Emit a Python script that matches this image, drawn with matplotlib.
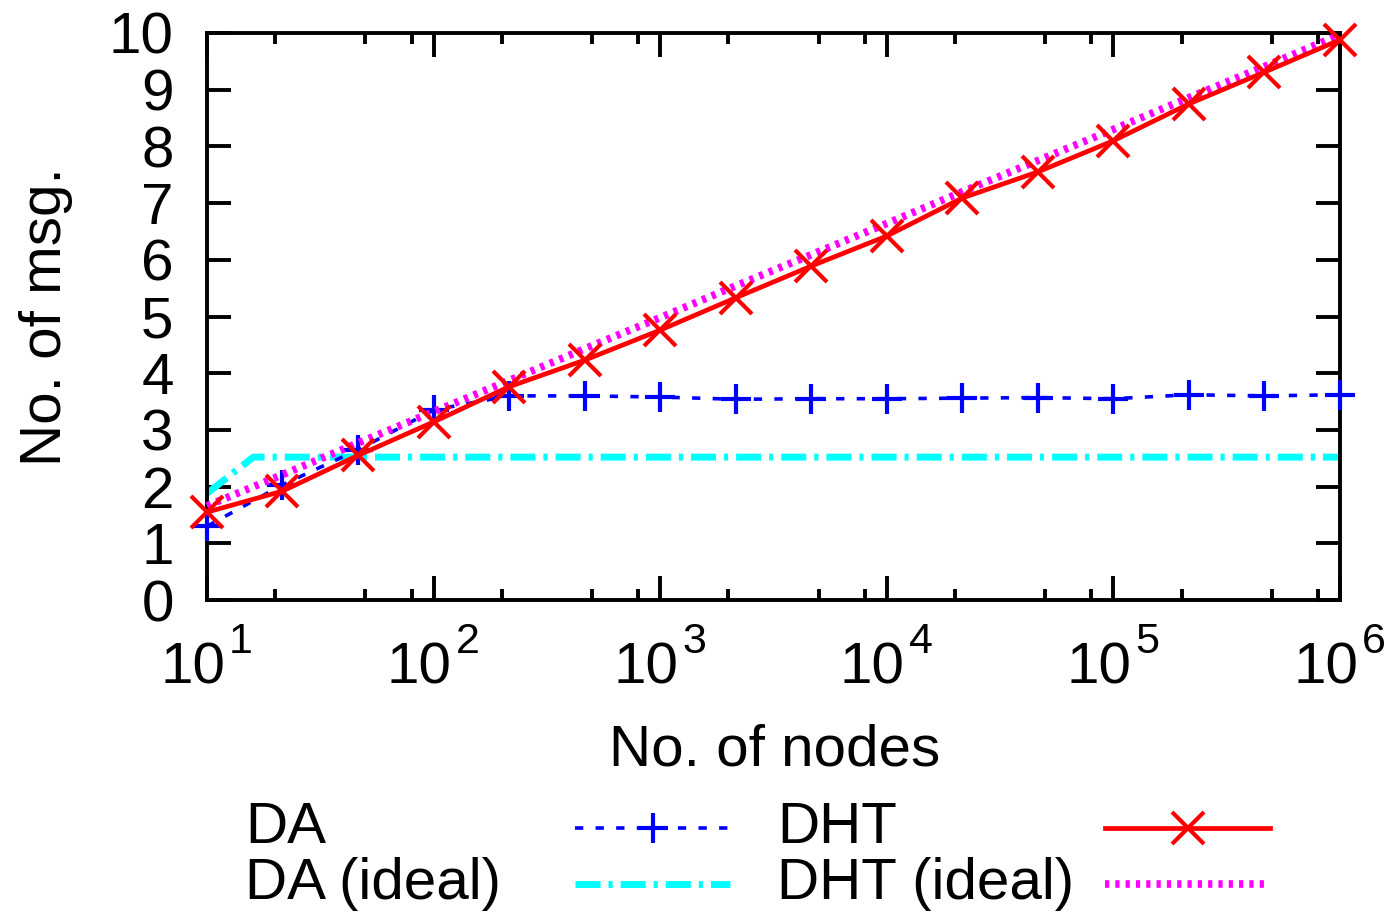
import matplotlib
matplotlib.use("Agg")
import matplotlib.pyplot as plt
from matplotlib.lines import Line2D
from matplotlib.ticker import FixedLocator, NullFormatter
from matplotlib.transforms import offset_copy

plt.rcParams['font.family'] = ['Liberation Sans', 'DejaVu Sans']

# number of nodes (three points per decade)
nodes = [10, 21.5, 46.4, 100, 215, 464, 1000, 2154, 4642, 10000,
         21544, 46416, 100000, 215443, 464159, 1000000]

da = [1.30, 2.03, 2.65, 3.35, 3.60, 3.60, 3.58, 3.54, 3.55, 3.55,
      3.56, 3.57, 3.55, 3.62, 3.60, 3.62]
dht = [1.55, 1.92, 2.55, 3.14, 3.76, 4.23, 4.76, 5.33, 5.89, 6.42,
       7.09, 7.55, 8.10, 8.75, 9.31, 9.88]
dht_ideal = [1.66, 2.21, 2.77, 3.32, 3.87, 4.43, 4.98, 5.54, 6.09, 6.64,
             7.20, 7.75, 8.30, 8.86, 9.41, 9.97]

da_ideal_x = [10, 16, 1000000]
da_ideal = [1.88, 2.52, 2.52]

x_exponents = [1, 2, 3, 4, 5, 6]
labels = ['DA', 'DA (ideal)', 'DHT', 'DHT (ideal)']

FS = 42
W, H = 1393, 917
fig = plt.figure(figsize=(W / 100, H / 100), dpi=100)
ax = fig.add_axes([207 / W, 1 - 600 / H, (1340 - 207) / W, (600 - 33) / H])

styles = {
    'DA': dict(color='#0000ff', lw=2.6, dashes=(2.3, 3.4), marker='+',
               ms=22, mew=3),
    'DA (ideal)': dict(color='#00ffff', lw=5, dashes=(3.6, 1.15, 0.6, 1.15)),
    'DHT': dict(color='#ff0000', lw=3.4, marker='x', ms=23, mew=3),
    'DHT (ideal)': dict(color='#ff00ff', lw=5.5, dashes=(0.55, 0.8),
                        dash_capstyle='butt'),
}

ax.plot(da_ideal_x, da_ideal, clip_on=False, zorder=2, **styles['DA (ideal)'])
ax.plot(nodes, da, clip_on=False, zorder=3, **styles['DA'])
ax.plot(nodes, dht_ideal, clip_on=False, zorder=4, **styles['DHT (ideal)'])
ax.plot(nodes, dht, clip_on=False, zorder=5, **styles['DHT'])

ax.set_xscale('log')
ax.set_xlim(10, 1e6)
ax.set_ylim(0, 10)
ax.set_yticks(range(0, 11))

ax.xaxis.set_major_locator(FixedLocator([10.0 ** e for e in x_exponents]))
ax.xaxis.set_major_formatter(NullFormatter())
minors = [m * 10 ** e for e in range(1, 6) for m in (2, 5, 8)]
ax.xaxis.set_minor_locator(FixedLocator(minors))
ax.xaxis.set_minor_formatter(NullFormatter())

for s in ax.spines.values():
    s.set_linewidth(2.8)
ax.tick_params(which='both', direction='in', top=True, right=True,
               width=2.8, labelsize=FS)
ax.tick_params(which='major', length=17)
ax.tick_params(which='minor', length=8)
ax.tick_params(axis='y', pad=24)

# gnuplot-like "10^n" labels: base and a large raised exponent
xt = ax.get_xaxis_transform()
for e in x_exponents:
    ax.text(10.0 ** e, 0, '10', fontsize=FS, ha='right', va='baseline',
            transform=offset_copy(xt, fig=fig, x=18, y=-83, units='dots'))
    ax.text(10.0 ** e, 0, str(e), fontsize=31, ha='left', va='baseline',
            transform=offset_copy(xt, fig=fig, x=22, y=-53, units='dots'))

fig.text(775 / W, 1 - 765 / H, 'No. of nodes', fontsize=FS,
         ha='center', va='baseline')
ax.set_ylabel('No. of msg.', fontsize=FS, labelpad=26)

# legend drawn by hand: two columns, label text then sample line
rows_y = [828, 884]
cols = [(245, 575, 730), (777, 1105, 1270)]
for i, name in enumerate(labels):
    col, row = divmod(i, 2)
    tx, x0, x1 = cols[col]
    yf = 1 - rows_y[row] / H
    fig.text(tx / W, yf, name, fontsize=FS, va='center', ha='left')
    st = dict(styles[name])
    marker = st.pop('marker', None)
    ms = st.pop('ms', None)
    mew = st.pop('mew', None)
    fig.add_artist(Line2D([x0 / W, x1 / W], [yf, yf],
                          transform=fig.transFigure, **st))
    if marker:
        fig.add_artist(Line2D([(x0 + x1) / 2 / W], [yf], transform=fig.transFigure,
                              color=st['color'], marker=marker, ms=ms, mew=mew,
                              ls='none'))

fig.savefig('out.png', dpi=100)
